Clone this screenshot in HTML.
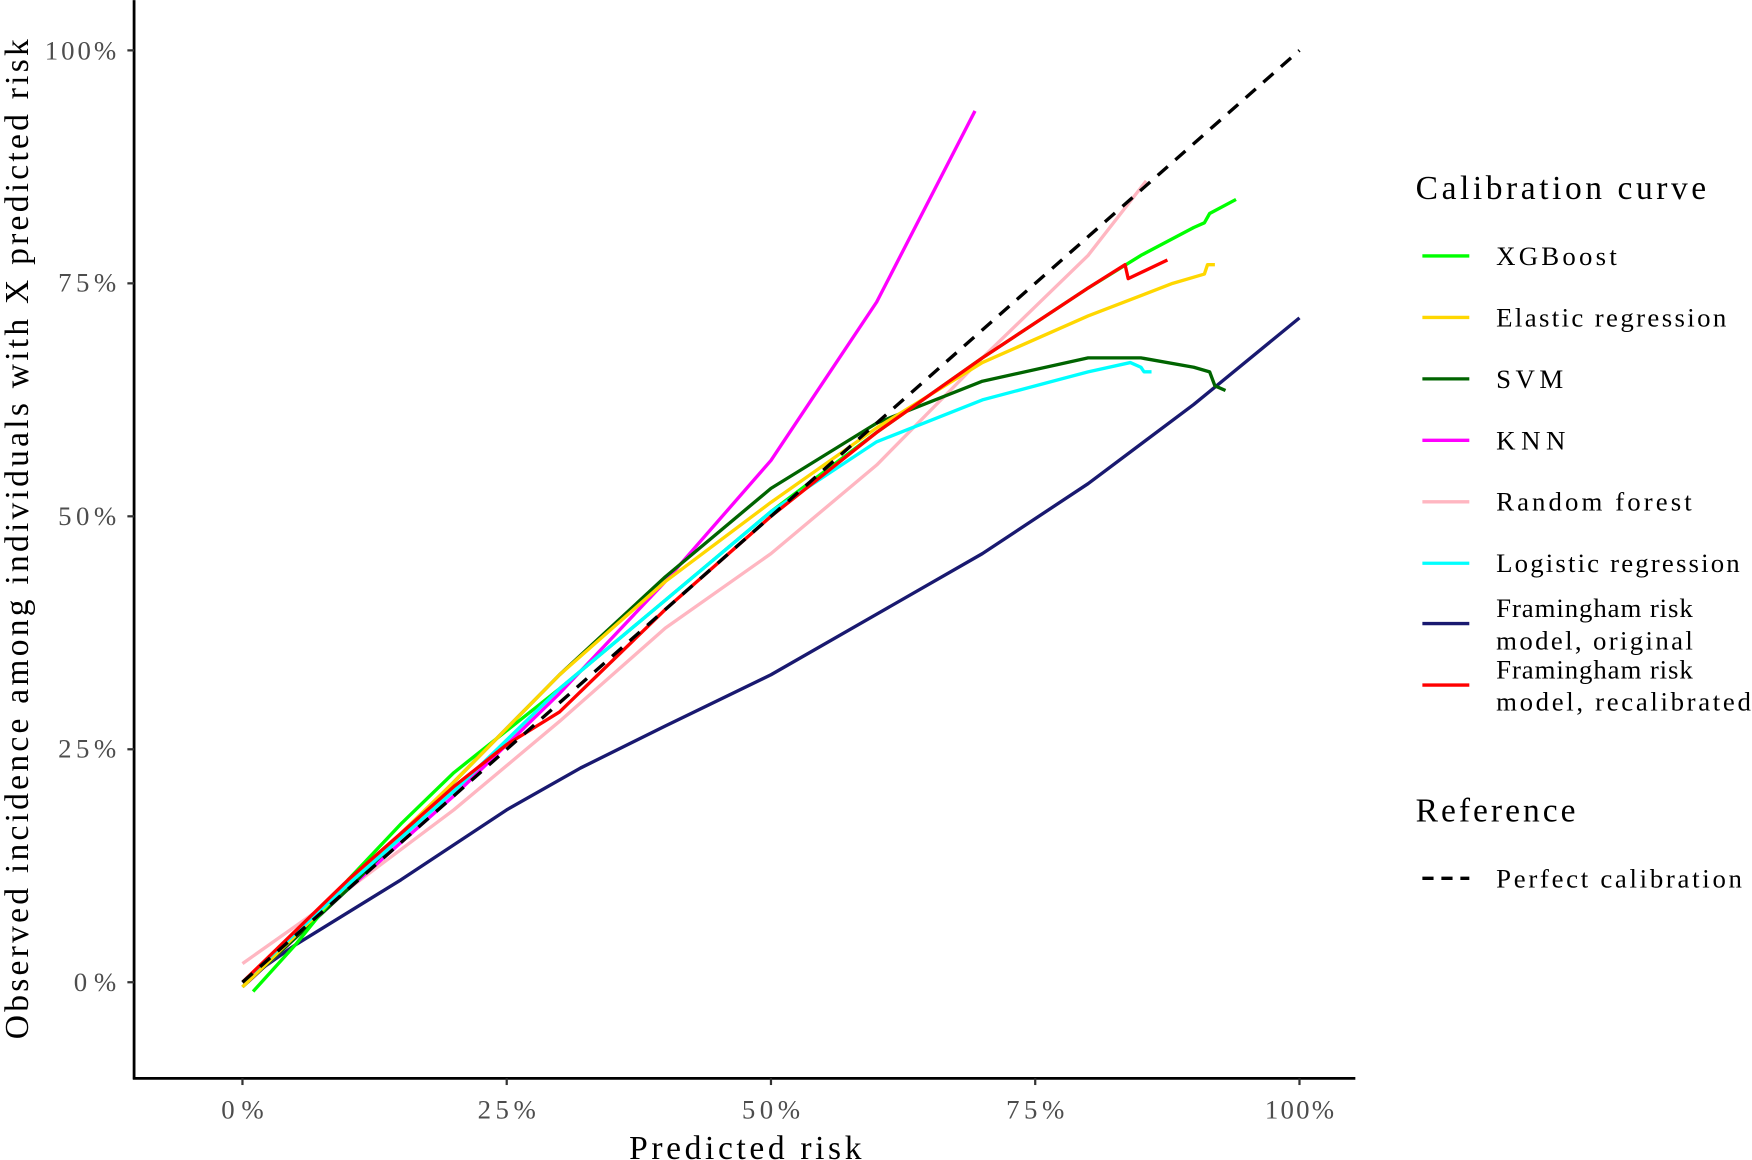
<!DOCTYPE html>
<html><head><style>
html,body{margin:0;padding:0;background:#fff;}
svg{display:block;font-family:"Liberation Serif",serif;}
</style></head><body>
<svg width="1752" height="1160" viewBox="0 0 1568 1038" xmlns="http://www.w3.org/2000/svg">
<g fill="none" stroke-width="3" stroke-linejoin="round">
<polyline stroke="#191970" points="217,879 264.3,845.6 358.9,787.3 453.5,724.7 519.7,687.2 595.4,649.7 690,603.8 784.6,549.6 879.2,495.4 973.8,432.8 1068.4,361.9 1163,284.4"/>
<polyline stroke="#ffb6c1" points="217,862.3 311.6,795.6 406.2,724.7 500.8,645.5 595.4,562.1 690,495.4 784.6,416.1 879.2,320.2 973.8,228.5 1025.8,161.8"/>
<polyline stroke="#ff00ff" points="221.7,879 311.6,795.6 406.2,712.2 500.8,620.5 595.4,520.4 690,412 784.6,270.2 872.6,99.2"/>
<polyline stroke="#006400" points="217,883.2 311.6,795.6 406.2,699.7 500.8,603.8 595.4,516.2 690,437 784.6,378.6 879.2,341.1 973.8,320.2 1021.1,320.2 1068.4,328.6 1082.6,332.7 1087.3,345.2 1096.8,349.4"/>
<polyline stroke="#00ff00" points="226.5,887.3 264.3,845.6 311.6,787.3 358.9,737.2 406.2,691.4 453.5,653.8 500.8,616.3 595.4,537.1 690,457.8 784.6,386.9 879.2,320.2 973.8,257.7 1021.1,228.5 1068.4,203.5 1077.9,199.3 1082.6,191 1106.2,178.4"/>
<polyline stroke="#ffd700" points="217,883.2 311.6,791.4 406.2,699.7 500.8,603.8 595.4,520.4 690,449.5 784.6,382.8 879.2,324.4 973.8,282.7 1049.5,253.5 1077.9,245.2 1080.7,236.8 1087.3,236.8"/>
<polyline stroke="#00ffff" points="217,879 311.6,791.4 406.2,708 500.8,616.3 595.4,537.1 690,457.8 784.6,395.3 879.2,357.8 973.8,332.7 1011.6,324.4 1021.1,328.6 1023.9,332.7 1030.6,332.7"/>
<polyline stroke="#ff0000" points="217,879 311.6,787.3 406.2,703.9 453.5,666.3 500.8,637.1 595.4,545.4 690,462 784.6,386.9 879.2,320.2 973.8,257.7 1006.9,236.8 1009.7,249.3 1044.8,232.6"/>
<line x1="217" y1="879" x2="1163" y2="45" stroke="#000" stroke-dasharray="12,9"/>
</g>
<line x1="120" y1="0" x2="120" y2="966" stroke="#000" stroke-width="2.5"/>
<line x1="119" y1="965" x2="1213" y2="965" stroke="#000" stroke-width="2.5"/>
<g stroke="#333" stroke-width="2">
<line x1="114" y1="879" x2="120" y2="879"/><line x1="114" y1="670.5" x2="120" y2="670.5"/><line x1="114" y1="462" x2="120" y2="462"/><line x1="114" y1="253.5" x2="120" y2="253.5"/><line x1="114" y1="45" x2="120" y2="45"/>
<line x1="217" y1="965" x2="217" y2="971"/><line x1="453.5" y1="965" x2="453.5" y2="971"/><line x1="690" y1="965" x2="690" y2="971"/><line x1="926.5" y1="965" x2="926.5" y2="971"/><line x1="1163" y1="965" x2="1163" y2="971"/>
</g>
<g fill="#4d4d4d" font-size="24" text-anchor="end">
<text x="104" y="887" textLength="38">0%</text><text x="104" y="678" textLength="52">25%</text><text x="104" y="470" textLength="52">50%</text><text x="104" y="261" textLength="52">75%</text><text x="104" y="53" textLength="64">100%</text>
</g>
<g fill="#4d4d4d" font-size="24" text-anchor="middle">
<text x="217" y="1001" textLength="38">0%</text><text x="453.5" y="1001" textLength="52">25%</text><text x="690" y="1001" textLength="52">50%</text><text x="926.5" y="1001" textLength="52">75%</text><text x="1163" y="1001" textLength="62">100%</text>
</g>
<text x="563" y="1037" font-size="30" textLength="208">Predicted risk</text>
<text transform="translate(25,930) rotate(-90)" font-size="30" textLength="895">Observed incidence among individuals with X predicted risk</text>
<text x="1267" y="178" font-size="30" textLength="260">Calibration curve</text>
<g font-size="24">
<line x1="1273" y1="229" x2="1315" y2="229" stroke="#00ff00" stroke-width="3"/><text x="1339" y="237" textLength="108">XGBoost</text>
<line x1="1273" y1="284" x2="1315" y2="284" stroke="#ffd700" stroke-width="3"/><text x="1339" y="292" textLength="206">Elastic regression</text>
<line x1="1273" y1="339" x2="1315" y2="339" stroke="#006400" stroke-width="3"/><text x="1339" y="347" textLength="60">SVM</text>
<line x1="1273" y1="394" x2="1315" y2="394" stroke="#ff00ff" stroke-width="3"/><text x="1339" y="402" textLength="62">KNN</text>
<line x1="1273" y1="449" x2="1315" y2="449" stroke="#ffb6c1" stroke-width="3"/><text x="1339" y="457" textLength="175">Random forest</text>
<line x1="1273" y1="504" x2="1315" y2="504" stroke="#00ffff" stroke-width="3"/><text x="1339" y="512" textLength="218">Logistic regression</text>
<line x1="1273" y1="558" x2="1315" y2="558" stroke="#191970" stroke-width="3"/><text x="1339" y="552" textLength="176">Framingham risk</text><text x="1339" y="581" textLength="176">model, original</text>
<line x1="1273" y1="613" x2="1315" y2="613" stroke="#ff0000" stroke-width="3"/><text x="1339" y="607" textLength="176">Framingham risk</text><text x="1339" y="636" textLength="228">model, recalibrated</text>
</g>
<text x="1267" y="735" font-size="30" textLength="143">Reference</text>
<line x1="1273" y1="786" x2="1315" y2="786" stroke="#000" stroke-width="3" stroke-dasharray="10,7"/>
<text x="1339" y="794" font-size="24" textLength="220">Perfect calibration</text>
</svg>
</body></html>
